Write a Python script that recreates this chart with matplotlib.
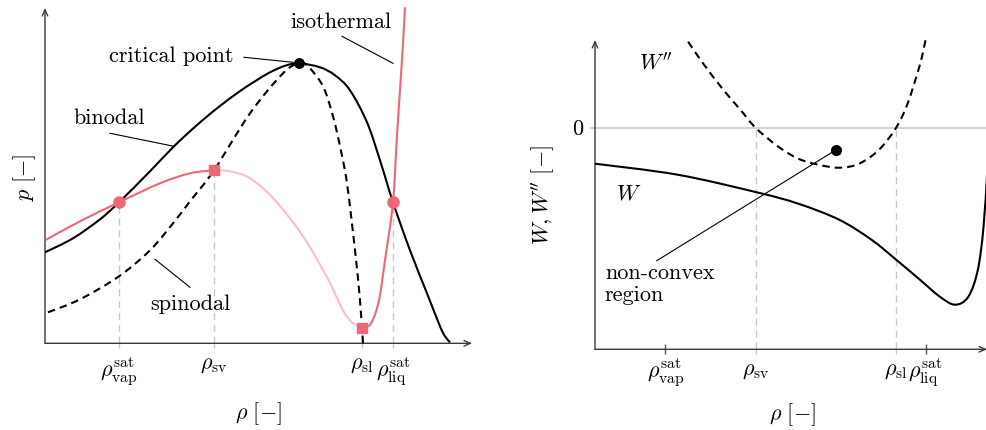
import matplotlib
matplotlib.use("Agg")
import matplotlib.pyplot as plt
from matplotlib.path import Path
from matplotlib.patches import PathPatch

plt.rcParams['mathtext.fontset'] = 'cm'
plt.rcParams['font.family'] = ['cmr10', 'DejaVu Serif']
plt.rcParams['axes.unicode_minus'] = False

# ---------------- data (left: p-rho diagram) ----------------
binodal_rho = [0.00, 0.28, 0.55, 0.74, 1.05, 1.28, 1.50, 1.72, 1.94, 2.10, 2.25, 2.40, 2.54, 2.75, 2.90,
               3.05, 3.22, 3.35, 3.48, 3.65, 3.82, 3.95, 4.00, 4.05]
binodal_p = [0.91, 1.05, 1.24, 1.41, 1.72, 1.96, 2.165, 2.35, 2.515, 2.62, 2.71, 2.775, 2.80, 2.76, 2.68,
             2.53, 2.21, 1.83, 1.41, 0.93, 0.50, 0.17, 0.07, 0.01]

spinodal_rho = [0.03, 0.35, 0.74, 1.05, 1.28, 1.45, 1.69, 2.05, 2.38, 2.54, 2.63, 2.78, 2.88, 2.95, 3.02,
                3.10, 3.15, 3.18]
spinodal_p = [0.31, 0.44, 0.67, 0.93, 1.20, 1.42, 1.73, 2.30, 2.70, 2.80, 2.77, 2.57, 2.27, 1.97, 1.60,
              0.93, 0.43, 0.00]

iso_vap_rho = [0.00, 0.35, 0.74, 1.15, 1.45, 1.69]
iso_vap_p = [1.03, 1.22, 1.41, 1.60, 1.70, 1.73]

iso_unst_rho = [1.69, 1.85, 2.05, 2.30, 2.58, 2.82, 2.98, 3.07, 3.17]
iso_unst_p = [1.73, 1.72, 1.65, 1.43, 1.07, 0.66, 0.33, 0.21, 0.15]

iso_liq_rho = [3.17, 3.26, 3.34, 3.40, 3.48, 3.52, 3.56, 3.585, 3.60]
iso_liq_p = [0.15, 0.20, 0.43, 0.83, 1.41, 2.08, 2.68, 3.08, 3.36]

critical = (2.54, 2.80)
sat_rho = [0.74, 3.48]
sat_p = [1.41, 1.41]
spin_pt_rho = [1.69, 3.17]
spin_pt_p = [1.73, 0.15]

tick_rho = [0.74, 1.69, 3.17, 3.48]
tick_labels = [r'$\rho^{\mathrm{sat}}_{\mathrm{vap}}$', r'$\rho_{\mathrm{sv}}$',
               r'$\rho_{\mathrm{sl}}$', r'$\rho^{\mathrm{sat}}_{\mathrm{liq}}$']
guide_top_p = [1.41, 1.73, 0.15, 1.41]

# ---------------- data (right: W, W'' diagram) ----------------
Wpp_rho = [0.98, 1.14, 1.35, 1.53, 1.69, 1.93, 2.14, 2.35, 2.57, 2.78, 2.99, 3.17, 3.29, 3.42, 3.48]
Wpp_val = [0.86, 0.64, 0.38, 0.18, 0.00, -0.19, -0.31, -0.37, -0.40, -0.36, -0.22, 0.00, 0.24, 0.63, 0.88]

W_rho = [0.00, 0.87, 1.72, 2.14, 2.57, 2.91, 3.17, 3.42, 3.63, 3.79, 3.93, 4.03, 4.09, 4.13, 4.15]
W_val = [-0.36, -0.47, -0.65, -0.76, -0.92, -1.12, -1.32, -1.52, -1.69, -1.77, -1.69, -1.42, -0.99, -0.42,
         -0.12]

nonconvex_pt = (2.54, -0.22)

RED = '#EE6677'
PINK = '#F7C1C9'
GRAY = '#c8c8c8'
AXC = '#3a3a3a'
FS = 16

fig = plt.figure(figsize=(9.87, 4.30), dpi=100)
W_PX, H_PX = 987, 430


def rect(x0, y0, x1, y1):
    return [x0 / W_PX, 1 - y1 / H_PX, (x1 - x0) / W_PX, (y1 - y0) / H_PX]


def arrows(ax):
    for s in ax.spines.values():
        s.set_visible(False)
    ap = dict(arrowstyle='->,head_length=0.45,head_width=0.2', color=AXC, lw=1.0,
              shrinkA=0, shrinkB=0)
    ax.annotate('', xy=(1, 0), xytext=(0, 0), xycoords='axes fraction', arrowprops=ap,
                annotation_clip=False)
    ax.annotate('', xy=(0, 1), xytext=(0, 0), xycoords='axes fraction', arrowprops=ap,
                annotation_clip=False)


def smooth(ax, xs, ys, **kw):
    """Draw a smooth curve through the given points (cubic Bezier segments, like TikZ 'smooth')."""
    pts = list(zip(xs, ys))
    n = len(pts)
    verts = [pts[0]]
    codes = [Path.MOVETO]
    for i in range(n - 1):
        p0 = pts[i - 1] if i > 0 else pts[i]
        p1 = pts[i]
        p2 = pts[i + 1]
        p3 = pts[i + 2] if i + 2 < n else pts[i + 1]
        c1 = (p1[0] + (p2[0] - p0[0]) / 6, p1[1] + (p2[1] - p0[1]) / 6)
        c2 = (p2[0] - (p3[0] - p1[0]) / 6, p2[1] - (p3[1] - p1[1]) / 6)
        verts += [c1, c2, p2]
        codes += [Path.CURVE4] * 3
    patch = PathPatch(Path(verts, codes), fill=False, capstyle='butt', joinstyle='round', **kw)
    ax.add_patch(patch)
    return patch


DASH = (0, (3.6, 2.4))
GDASH = (0, (5, 3.5))

# ---------------- left axes ----------------
ax = fig.add_axes(rect(45, 8, 472, 343.3))
ax.set_xlim(0, 4.27)
ax.set_ylim(0, 3.353)
arrows(ax)
ax.set_yticks([])
ax.set_xticks(tick_rho, tick_labels)
ax.tick_params(axis='x', direction='out', length=3.6, color=GRAY, width=1.0, pad=5.5, labelsize=FS)

for r, ptop in zip(tick_rho, guide_top_p):
    ax.plot([r, r], [0, ptop], color=GRAY, lw=1.0, ls=GDASH, zorder=1)

smooth(ax, binodal_rho, binodal_p, edgecolor='black', lw=1.5, zorder=3)
smooth(ax, spinodal_rho, spinodal_p, edgecolor='black', lw=1.5, ls=DASH, zorder=3)
smooth(ax, iso_unst_rho, iso_unst_p, edgecolor=PINK, lw=1.5, zorder=2)
smooth(ax, iso_vap_rho, iso_vap_p, edgecolor=RED, lw=1.5, zorder=4)
smooth(ax, iso_liq_rho, iso_liq_p, edgecolor=RED, lw=1.5, zorder=4, clip_on=False)
ax.plot(sat_rho, sat_p, 'o', color=RED, ms=8, mec=RED, zorder=5)
ax.plot(spin_pt_rho, spin_pt_p, 's', color=RED, ms=7.2, mec=RED, zorder=5)
ax.plot([critical[0]], [critical[1]], 'o', color='black', ms=6.8, zorder=6)

lead = dict(color='black', lw=0.8)
ax.text(1.265, 2.873, 'critical point', fontsize=FS, ha='center', va='center')
ax.plot([1.99, 2.48], [2.86, 2.81], **lead)
ax.text(0.647, 2.246, 'binodal', fontsize=FS, ha='center', va='center')
ax.plot([0.65, 1.29], [2.10, 1.97], **lead)
ax.text(1.45, 0.393, 'spinodal', fontsize=FS, ha='center', va='center')
ax.plot([1.10, 1.45], [0.84, 0.56], **lead)
ax.text(2.958, 3.213, 'isothermal', fontsize=FS, ha='center', va='center')
ax.plot([2.97, 3.48], [3.07, 2.80], **lead)

fig.text(25 / W_PX, 1 - 177 / H_PX, r'$p\ [-]$', rotation=90, fontsize=FS, ha='center', va='center')
fig.text(258 / W_PX, 1 - 414 / H_PX, r'$\rho\ [-]$', fontsize=FS, ha='center', va='center')

# ---------------- right axes ----------------
bx = fig.add_axes(rect(595, 40, 987, 349.3))
bx.set_xlim(0, 392 / 95)
bx.set_ylim(-2.216, 0.877)
arrows(bx)
bx.set_xticks([tick_rho[0], tick_rho[3]], [tick_labels[0], tick_labels[3]])
bx.set_xticks([tick_rho[1], tick_rho[2]], [tick_labels[1], tick_labels[2]], minor=True)
bx.tick_params(axis='x', which='major', direction='inout', length=7, color='#555555', width=1.0,
               pad=2.0, labelsize=FS)
bx.tick_params(axis='x', which='minor', direction='out', length=3.6, color=GRAY, width=1.0,
               pad=5.5, labelsize=FS)
bx.set_yticks([0], ['0'])
bx.tick_params(axis='y', direction='out', length=3.6, color=GRAY, width=1.2, pad=5.0, labelsize=FS)

bx.axhline(0, color=GRAY, lw=1.2, zorder=1)
for r in (tick_rho[1], tick_rho[2]):
    bx.plot([r, r], [-2.216, 0], color=GRAY, lw=1.0, ls=GDASH, zorder=1)

smooth(bx, Wpp_rho, Wpp_val, edgecolor='black', lw=1.5, ls=DASH, zorder=3)
smooth(bx, W_rho, W_val, edgecolor='black', lw=1.5, zorder=3)
bx.plot([nonconvex_pt[0]], [nonconvex_pt[1]], 'o', color='black', ms=7, zorder=5)
bx.plot([nonconvex_pt[0], 0.65], [nonconvex_pt[1], -1.33], **lead)
bx.text(0.64, 0.652, r"$W''$", fontsize=FS, ha='center', va='center')
bx.text(0.35, -0.663, r"$W$", fontsize=FS, ha='center', va='center')
bx.text(0.105, -1.565, 'non-convex\nregion', fontsize=FS, ha='left', va='center', linespacing=1.15)

fig.text(543 / W_PX, 1 - 195 / H_PX, r"$W,W''\ [-]$", rotation=90, fontsize=FS, ha='center',
         va='center')
fig.text(792 / W_PX, 1 - 415 / H_PX, r'$\rho\ [-]$', fontsize=FS, ha='center', va='center')

fig.savefig('out.png', dpi=100)
